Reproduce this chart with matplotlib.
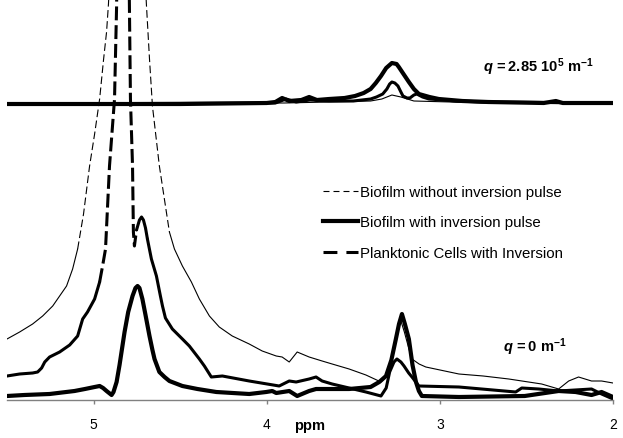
import numpy as np
import matplotlib
matplotlib.use("Agg")
import matplotlib.pyplot as plt
from matplotlib.lines import Line2D

plt.rcParams['font.family'] = ['Liberation Sans', 'DejaVu Sans']
plt.rcParams['mathtext.fontset'] = 'custom'
plt.rcParams['mathtext.it'] = 'Liberation Sans:italic:bold'
plt.rcParams['mathtext.bf'] = 'Liberation Sans:bold'
plt.rcParams['mathtext.rm'] = 'Liberation Sans:bold'
plt.rcParams['lines.scale_dashes'] = False

# ---- data (ppm, intensity in arbitrary units) ----
# q = 0 m^-1
nopulse_ppm = [5.50, 5.427, 5.352, 5.294, 5.236, 5.196, 5.156, 5.121, 5.092, 5.058,
               5.023, 4.994, 4.965, 4.942, 4.925, 4.914, 4.88, 4.84, 4.805, 4.77,
               4.73, 4.695, 4.677, 4.660, 4.620, 4.562, 4.533, 4.487, 4.435, 4.389,
               4.331, 4.274, 4.199, 4.101, 4.026, 3.945, 3.911, 3.870, 3.824, 3.755,
               3.68, 3.622, 3.524, 3.427, 3.340, 3.30, 3.27, 3.245, 3.225, 3.205,
               3.18, 3.161, 3.12, 3.081, 2.890, 2.75, 2.602, 2.412, 2.314, 2.256,
               2.199, 2.124, 2.066, 2.00]
nopulse_val = [61, 68, 76, 84, 94, 104, 114, 131, 151, 186,
               234, 266, 301, 341, 368, 396, 520, 700, 800, 700,
               520, 396, 341, 294, 234, 168, 151, 134, 118, 101,
               84, 73, 64, 56, 49, 44, 43, 38, 48, 43,
               39, 36, 31, 25, 18, 25, 50, 70, 79, 68,
               52, 41, 36, 33, 26, 24, 21, 16, 11, 19,
               23, 19, 19, 17]

plank_ppm = [5.50, 5.427, 5.352, 5.323, 5.300, 5.282, 5.254, 5.196, 5.138, 5.092,
             5.063, 5.035, 4.994, 4.965, 4.948, 4.931, 4.908, 4.879, 4.867, 4.85,
             4.827, 4.81, 4.793, 4.787, 4.775, 4.770, 4.764, 4.752, 4.735, 4.723,
             4.712, 4.700, 4.689, 4.666, 4.637, 4.614, 4.602, 4.585, 4.545, 4.487,
             4.447, 4.389, 4.360, 4.320, 4.256, 4.101, 3.928, 3.870, 3.830, 3.755,
             3.715, 3.68, 3.622, 3.524, 3.427, 3.340, 3.31, 3.29, 3.265, 3.248,
             3.225, 3.207, 3.18, 3.161, 3.121, 2.890, 2.562, 2.527, 2.429, 2.314,
             2.124, 2.066, 2.00]
plank_val = [24, 26, 27, 28, 32, 38, 43, 48, 55, 64,
             81, 88, 101, 118, 134, 151, 234, 301, 394, 650,
             850, 650, 394, 301, 234, 168, 154, 170, 180, 183,
             180, 172, 161, 141, 124, 104, 94, 82, 71, 61,
             54, 41, 34, 23, 24, 19, 14, 19, 18, 21,
             23, 19, 16, 12, 8, 4, 12, 28, 38, 41,
             38, 34, 27, 23, 14, 13, 8, 12, 11, 9,
             11, 6, 1]

pulse_ppm = [5.50, 5.40, 5.254, 5.110, 5.05, 4.994, 4.965, 4.945, 4.925, 4.896,
             4.885, 4.867, 4.85, 4.821, 4.80, 4.775, 4.758, 4.746, 4.735, 4.718,
             4.70, 4.677, 4.66, 4.648, 4.620, 4.59, 4.562, 4.487, 4.40, 4.291,
             4.101, 4.003, 3.968, 3.945, 3.870, 3.824, 3.755, 3.715, 3.524, 3.40,
             3.35, 3.311, 3.28, 3.254, 3.236, 3.219, 3.202, 3.179, 3.158, 3.138,
             3.121, 3.104, 2.890, 2.510, 2.314, 2.216, 2.124, 2.066, 2.00]
pulse_val = [4, 5, 6, 9, 11, 13, 14, 12, 9, 5,
             8, 18, 35, 68, 88, 104, 112, 114, 112, 101,
             85, 64, 50, 41, 28, 23, 19, 14, 11, 8,
             6, 8, 9, 7, 9, 4, 9, 11, 11, 13,
             18, 24, 40, 61, 76, 86, 76, 61, 35, 18,
             9, 4, 3, 4, 9, 8, 5, 8, 3]

# q = 2.85 10^5 m^-1
top_pulse_ppm = [5.50, 4.50, 4.00, 3.95, 3.911, 3.87, 3.80, 3.755, 3.71, 3.64,
                 3.55, 3.49, 3.44, 3.40, 3.37, 3.34, 3.31, 3.277, 3.25, 3.237,
                 3.21, 3.179, 3.15, 3.121, 3.06, 3.006, 2.87, 2.72, 2.40, 2.33,
                 2.29, 2.00]
top_pulse_val = [0, 0, 1, 2, 6, 3, 4, 7, 4, 5,
                 6, 8, 11, 15, 21, 28, 36, 41, 40, 37,
                 30, 22, 15, 10, 7, 5, 3, 2, 1, 3,
                 1, 1]
top_plank_ppm = [5.50, 3.95, 3.888, 3.83, 3.75, 3.64, 3.50, 3.40, 3.366, 3.33,
                 3.306, 3.29, 3.277, 3.26, 3.242, 3.225, 3.213, 3.19, 3.173, 3.15,
                 3.133, 3.10, 3.063, 2.90, 2.72, 2.00]
top_plank_val = [0, 1, 5, 2, 4, 3, 3, 5, 7, 10,
                 15, 20, 22, 21, 18, 12, 8, 6, 6, 9,
                 10, 7, 5, 3, 2, 1]
top_nopulse_ppm = [5.50, 3.90, 3.64, 3.40, 3.335, 3.277, 3.225, 3.150, 2.72, 2.00]
top_nopulse_val = [1, 1, 2, 3, 5, 9, 7, 3, 1, 0]
top_offset = 296

labels = ["Biofilm without inversion pulse", "Biofilm with inversion pulse",
          "Planktonic Cells with Inversion"]

W, H = 623, 439
fig = plt.figure(figsize=(W / 100, H / 100), dpi=100)
ax = fig.add_axes([7 / W, (H - 401) / H, 606 / W, 401 / H])
ax.set_xlim(5.5, 2.0)
ax.set_ylim(0, 401)

thin_dash = (5.5, 2.5)
long_dash = (10.0, 3.5)


def trace(x, y, lw, dash=None, steep=5.2):
    # excel restarts the dash pattern on every segment, so only long/steep
    # segments show dashes; flat parts look solid
    x = np.asarray(x, float)
    y = np.asarray(y, float)
    if dash is None:
        ax.plot(x, y, color='k', lw=lw, solid_joinstyle='round', solid_capstyle='round')
        return
    p = ax.transData.transform(np.column_stack([x, y]))
    d = np.diff(p, axis=0)
    st = np.abs(d[:, 1]) > steep * np.abs(d[:, 0])
    s = 0
    for i in range(1, len(st) + 1):
        if i == len(st) or st[i] != st[s]:
            if st[s]:
                ax.plot(x[s:i + 1], y[s:i + 1], color='k', lw=lw, ls=(0, dash))
            else:
                ax.plot(x[s:i + 1], y[s:i + 1], color='k', lw=lw,
                        solid_joinstyle='round', solid_capstyle='round')
            s = i


trace(top_nopulse_ppm, np.array(top_nopulse_val) + top_offset, 0.8, thin_dash)
trace(top_plank_ppm, np.array(top_plank_val) + top_offset, 2.2, long_dash)
trace(top_pulse_ppm, np.array(top_pulse_val) + top_offset, 3.0)

trace(nopulse_ppm, nopulse_val, 0.8, thin_dash)
trace(plank_ppm, plank_val, 2.2, long_dash)
trace(pulse_ppm, pulse_val, 3.0)

for s in ['top', 'left', 'right']:
    ax.spines[s].set_visible(False)
ax.spines['bottom'].set_color('#808080')
ax.spines['bottom'].set_linewidth(1.0)
ax.set_yticks([])
ax.set_xticks([5, 4, 3, 2])
ax.set_xticklabels(['5', '4', '3', '2'])
ax.tick_params(axis='x', direction='out', length=3, width=1, color='#808080',
               labelsize=10, pad=9)
ax.set_xlabel('ppm', fontsize=10.5, fontweight='bold')
ax.xaxis.set_label_coords(0.5, -0.045)
ax.xaxis.label.set_va('top')

handles = [Line2D([], [], color='k', lw=0.8, ls=(0, (4.3, 2.9))),
           Line2D([], [], color='k', lw=3.0),
           Line2D([], [], color='k', lw=2.2, ls=(0, (10, 6.5)))]
fig.legend(handles, labels, loc='upper left', bbox_to_anchor=(323 / W, 1 - 186 / H),
           frameon=False, fontsize=10.8, handlelength=2.33, handletextpad=0.13,
           labelspacing=1.1, borderpad=0, borderaxespad=0)

fig.text(483 / W, 1 - 67 / H, r"$q\,\mathbf{{=}2.85\ 10^{5}\ m^{-1}}$",
         fontsize=10.5, ha='left', va='center')
fig.text(503 / W, 1 - 347 / H, r"$q\,\mathbf{{=}0\ m^{-1}}$",
         fontsize=10.5, ha='left', va='center')

fig.savefig('out.png', dpi=100)
